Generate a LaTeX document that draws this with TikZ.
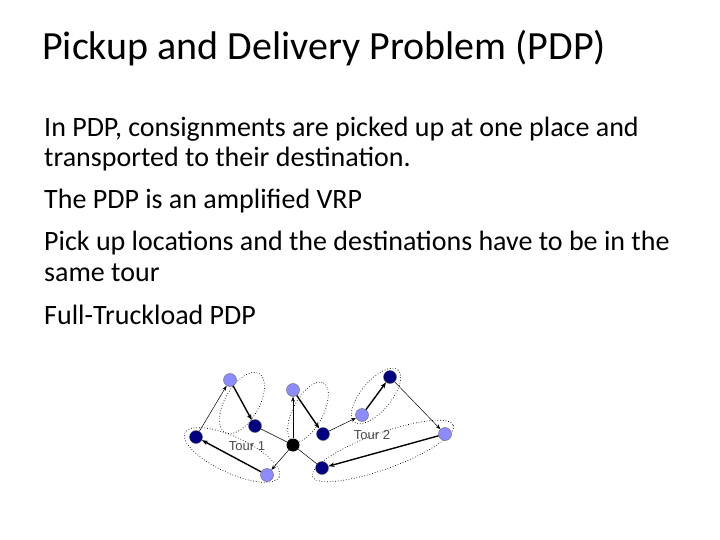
\documentclass[tikz,border=0pt]{standalone}
\usepackage{fontspec}
\setmainfont{Carlito}
\newfontfamily\labfont{Liberation Sans}
\usetikzlibrary{arrows.meta}
\begin{document}
\begin{tikzpicture}[x=1pt,y=-1pt,
  txt/.style={anchor=base west,inner sep=0pt,font=\fontsize{28}{32}\selectfont},
  lt/.style={circle,draw=black!60,fill=blue!45!white,minimum size=13pt,inner sep=0pt},
  dk/.style={circle,draw=black!60,fill=blue!50!black,minimum size=13pt,inner sep=0pt},
  dep/.style={circle,fill=black,minimum size=13pt,inner sep=0pt},
  thin/.style={draw,line width=0.5pt,-{Stealth[length=5pt]}},
  bold/.style={draw,line width=1.4pt,-{Stealth[length=6pt]}},
  grp/.style={draw,dotted,line width=0.7pt},
  lab/.style={font=\labfont\fontsize{13}{14}\selectfont,text=black!70}]
\useasboundingbox (0,0) rectangle (720,540);
\fill[white] (0,0) rectangle (720,540);
\node[txt,font=\fontsize{40}{44}\selectfont] (title) at (42,60) {Pickup and Delivery Problem (PDP)};
\node[txt] (l1) at (44,137) {In PDP, consignments are picked up at one place and};
\node[txt] (l2) at (44,167) {transported to their destination.};
\node[txt] (l3) at (44,209) {The PDP is an amplified VRP};
\node[txt] (l4) at (44,250) {Pick up locations and the destinations have to be in the};
\node[txt] (l5) at (44,281) {same tour};
\node[txt] (l6) at (44,324) {Full-Truckload PDP};
% groups
\draw[grp,rotate around={60:(242,403)}] (242,403) ellipse (34 and 17);
\draw[grp,rotate around={-25:(232,455)}] (232,455) ellipse (52 and 18);
\draw[grp,rotate around={62:(308,412)}] (308,412) ellipse (33 and 15);
\draw[grp,rotate around={50:(376,396)}] (376,396) ellipse (34 and 15);
\draw[grp,rotate around={20:(383,451)}] (383,451) ellipse (75 and 18);
% nodes
\node[lt] (A) at (230,380) {};
\node[dk] (B) at (255,426) {};
\node[dk] (C) at (196,437) {};
\node[lt] (D) at (267,475) {};
\node[dep] (O) at (293,445) {};
\node[lt] (E) at (293,390) {};
\node[dk] (F) at (323,434) {};
\node[lt] (G) at (362,415) {};
\node[dk] (H) at (390,377) {};
\node[lt] (I) at (445,434) {};
\node[dk] (J) at (322,468) {};
\node[lab] (t1) at (247,446) {Tour 1};
\node[lab] (t2) at (372,435) {Tour 2};
% edges
\draw[thin] (O) -- (D);
\draw[bold] (D) -- (C);
\draw[thin] (C) -- (A);
\draw[bold] (A) -- (B);
\draw[line width=0.5pt] (B) -- (O);
\draw[thin] (O) -- (E);
\draw[bold] (E) -- (F);
\draw[thin] (F) -- (G);
\draw[bold] (G) -- (H);
\draw[thin] (H) -- (I);
\draw[bold] (I) -- (J);
\draw[line width=0.5pt] (J) -- (O);
\end{tikzpicture}
\end{document}
